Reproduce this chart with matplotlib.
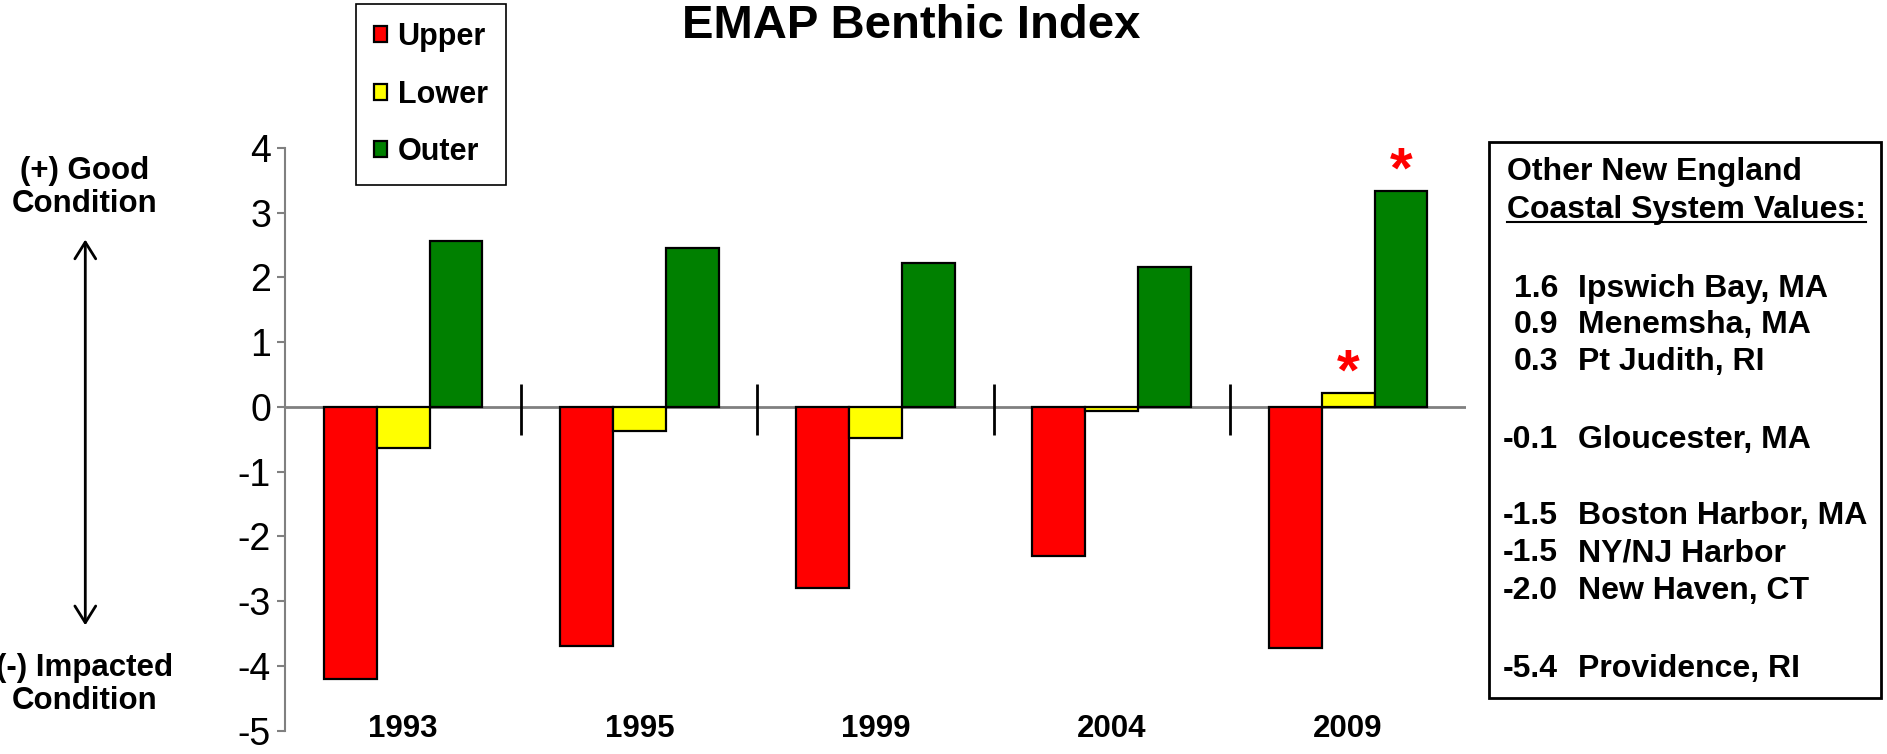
import matplotlib
matplotlib.use('Agg')
import matplotlib.pyplot as plt
from matplotlib.patches import Rectangle, FancyArrowPatch
from matplotlib.lines import Line2D
import numpy as np

plt.rcParams['font.family'] = ['Liberation Sans', 'DejaVu Sans']
plt.rcParams['axes.unicode_minus'] = False

years = ['1993', '1995', '1999', '2004', '2009']
upper = [-4.20, -3.69, -2.80, -2.31, -3.72]
lower = [-0.63, -0.37, -0.48, -0.07, 0.22]
outer = [2.56, 2.45, 2.22, 2.16, 3.34]
series_names = ['Upper', 'Lower', 'Outer']
series_colors = ['#FF0000', '#FFFF00', '#008000']
starred = [('Lower', 4), ('Outer', 4)]

ref_values = ['1.6', '0.9', '0.3', '-0.1', '-1.5', '-1.5', '-2.0', '-5.4']
ref_sites = ['Ipswich Bay, MA', 'Menemsha, MA', 'Pt Judith, RI', 'Gloucester, MA',
             'Boston Harbor, MA', 'NY/NJ Harbor', 'New Haven, CT', 'Providence, RI']
ref_ypos = [0.617, 0.569, 0.520, 0.417, 0.315, 0.266, 0.216, 0.113]

fig = plt.figure(figsize=(18.87, 7.54), dpi=100)
ax = fig.add_axes([0.151, 0.031, 0.626, 0.773])

x = np.arange(len(years))
w = 0.224
series = [upper, lower, outer]
bars = {}
for i, (name, vals, col) in enumerate(zip(series_names, series, series_colors)):
    bars[name] = ax.bar(x + (i - 1) * w, vals, w, color=col, edgecolor='black',
                        linewidth=1.6, label=name, zorder=3)

ax.axhline(0, color='#808080', linewidth=2, zorder=2)
ax.vlines(x[:-1] + 0.5, -0.44, 0.35, color='black', linewidth=2)

for name, idx in starred:
    j = series_names.index(name)
    ax.annotate('*', (idx + (j - 1) * w, series[j][idx]), xytext=(0, 2),
                textcoords='offset points', ha='center', va='baseline',
                color='red', fontsize=42, fontweight='bold')

for i, yr in enumerate(years):
    ax.text(i, -4.98, yr, ha='center', va='center', fontsize=22.5,
            fontweight='bold', clip_on=False)

ax.set_xlim(-0.5, len(years) - 0.5)
ax.set_ylim(-5, 4)
ax.set_yticks(range(-5, 5))
ax.set_xticks([])
for s in ['top', 'right', 'bottom']:
    ax.spines[s].set_visible(False)
ax.spines['left'].set_color('#808080')
ax.spines['left'].set_linewidth(1.5)
ax.tick_params(axis='y', colors='#808080', length=6, width=1.5, pad=4,
               labelsize=27, labelcolor='black')

fig.text(0.483, 0.965, 'EMAP Benthic Index', ha='center', va='center',
         fontsize=34, fontweight='bold')

leg = fig.legend(handles=[bars[n] for n in series_names], labels=series_names,
                 loc='upper left', bbox_to_anchor=(0.1885, 0.995),
                 prop={'weight': 'bold', 'size': 22},
                 fancybox=False, edgecolor='black', framealpha=1,
                 handlelength=0.42, handleheight=0.42, handletextpad=0.35,
                 labelspacing=0.9, borderpad=0.6, borderaxespad=0)
leg.get_frame().set_linewidth(1.2)

fig.text(0.045, 0.751, '(+) Good\nCondition', ha='center', va='center',
         fontsize=22.5, fontweight='bold', linespacing=1.15)
fig.text(0.045, 0.092, '(-) Impacted\nCondition', ha='center', va='center',
         fontsize=22.5, fontweight='bold', linespacing=1.15)
fig.add_artist(FancyArrowPatch(
    (0.0452, 0.686), (0.0452, 0.167), transform=fig.transFigure,
    arrowstyle='<->,head_length=8,head_width=5', color='black', linewidth=2,
    mutation_scale=1.5))

fig.add_artist(Rectangle((0.789, 0.074), 0.208, 0.738, transform=fig.transFigure,
                         fill=False, edgecolor='black', linewidth=2))
fig.text(0.7986, 0.772, 'Other New England', ha='left', va='center',
         fontsize=23, fontweight='bold')
t2 = fig.text(0.7986, 0.722, 'Coastal System Values:', ha='left', va='center',
              fontsize=23, fontweight='bold')
for v, s, yy in zip(ref_values, ref_sites, ref_ypos):
    fig.text(0.8256, yy, v, ha='right', va='center', fontsize=23, fontweight='bold')
    fig.text(0.8362, yy, s, ha='left', va='center', fontsize=23, fontweight='bold')

fig.canvas.draw()
bb = t2.get_window_extent().transformed(fig.transFigure.inverted())
fig.add_artist(Line2D([bb.x0, bb.x1], [bb.y0 + 0.004, bb.y0 + 0.004],
                      transform=fig.transFigure, color='black', linewidth=1.5))

fig.savefig('out.png', dpi=100)
